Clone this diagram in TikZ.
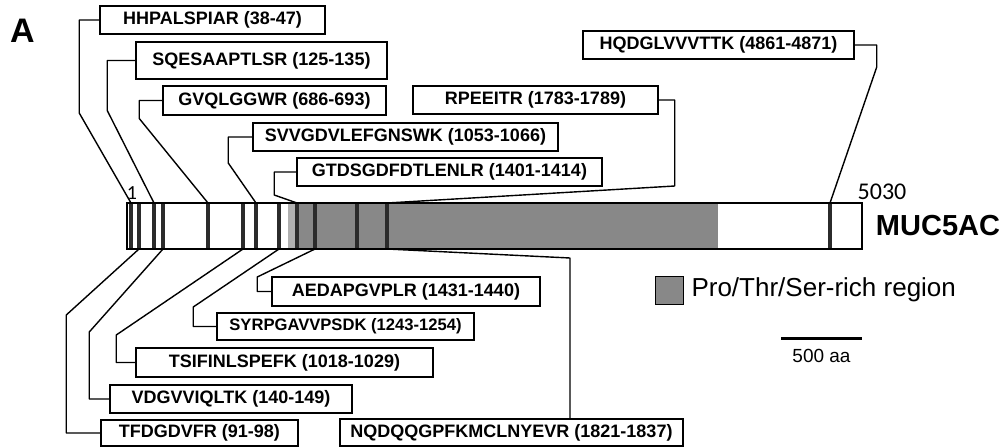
\documentclass[tikz,border=0pt]{standalone}
\usepackage{fontspec}
\setmainfont{Liberation Sans}
\newfontfamily\calfont{Carlito}
\usetikzlibrary{calc}
\definecolor{ptsgray}{HTML}{888888}
\definecolor{ptslight}{HTML}{B0B0B0}
\definecolor{sitedark}{HTML}{2B2B2B}

\begin{document}
\begin{tikzpicture}[x=1pt, y=-1pt,
  pep/.style={draw, line width=1.5pt, inner sep=0pt, fill=white, font=\fontsize{18}{20}\selectfont\bfseries},
  lead/.style={line width=1.4pt, line join=round},
  site/.style={line width=3.8pt, sitedark}
]
  \useasboundingbox (0,0) rectangle (1006,447);
  % protein bar
  \fill[white] (127,203) rectangle (862,249);
  \fill[ptslight] (288,203) rectangle (297,249);
  \fill[ptsgray] (297,203) rectangle (718,249);
  \foreach \x [count=\i] in {131,139,154,163,208,243,256,279,297,315,357,387,830}
    \draw[site] (\x,203) coordinate (t\i) -- (\x,249) coordinate (b\i);
  \draw[line width=1.5pt] (127,203) rectangle (862,249);
  \node[font=\calfont\fontsize{20}{20}\selectfont] (start) at (132,193) {1};
  \node[font=\calfont\fontsize{24}{24}\selectfont] (stop) at (882,192) {5030};
  \node[font=\fontsize{29}{30}\selectfont\bfseries] (muc) at (938,226) {MUC5AC};
  \node[font=\fontsize{34}{34}\selectfont\bfseries] (panel) at (22.5,31) {A};

  % peptides above the bar
  \node[pep, minimum width=225pt, minimum height=28pt] (hhp) at (212.5,20) {HHPALSPIAR (38-47)};
  \node[pep, minimum width=251pt, minimum height=37pt] (sqe) at (261.5,60.5) {SQESAAPTLSR (125-135)};
  \node[pep, minimum width=223pt, minimum height=29pt] (gvq) at (274.5,100.5) {GVQLGGWR (686-693)};
  \node[pep, minimum width=305pt, minimum height=28pt] (svv) at (405.5,137) {SVVGDVLEFGNSWK (1053-1066)};
  \node[pep, minimum width=305pt, minimum height=28pt] (gtd) at (449.5,172) {GTDSGDFDTLENLR (1401-1414)};
  \node[pep, minimum width=245pt, minimum height=28pt] (rpe) at (535.5,100) {RPEEITR (1783-1789)};
  \node[pep, minimum width=271pt, minimum height=28pt] (hqd) at (718.5,45) {HQDGLVVVTTK (4861-4871)};
  % peptides below the bar
  \node[pep, minimum width=268pt, minimum height=29pt] (aed) at (406,291.5) {AEDAPGVPLR (1431-1440)};
  \node[pep, minimum width=257pt, minimum height=27pt, font=\fontsize{16.6}{20}\selectfont\bfseries] (syr) at (345.5,326.5) {SYRPGAVVPSDK (1243-1254)};
  \node[pep, minimum width=297pt, minimum height=29pt] (tsi) at (284.5,362.5) {TSIFINLSPEFK (1018-1029)};
  \node[pep, minimum width=242pt, minimum height=28pt] (vdg) at (231,399) {VDGVVIQLTK (140-149)};
  \node[pep, minimum width=197pt, minimum height=26pt] (tfd) at (199.5,433) {TFDGDVFR (91-98)};
  \node[pep, minimum width=343pt, minimum height=27pt] (nqd) at (511.5,432.5) {NQDQQGPFKMCLNYEVR (1821-1837)};

  % leaders
  \draw[lead] (hhp.west) -- ++(-20,0) -- ++(0,93) -- (t1);
  \draw[lead] (sqe.west) -- ++(-28,0) -- ++(0,50) -- (t3);
  \draw[lead] (gvq.west) -- ++(-23,0) -- ++(0,18) -- (t5);
  \draw[lead] (svv.west) -- ++(-24,0) -- ++(0,26) -- (t7);
  \draw[lead] (gtd.west) -- ++(-22,0) -- ++(0,23) -- (t9);
  \draw[lead] (rpe.east) -- ++(16,0) -- ++(0,86) -- (t12);
  \draw[lead] (hqd.east) -- ++(22,0) -- ++(0,22) -- (t13);
  \draw[lead] (tfd.west) -- ++(-34,0) -- ++(0,-118) -- (b2);
  \draw[lead] (vdg.west) -- ++(-20,0) -- ++(0,-67) -- (b4);
  \draw[lead] (tsi.west) -- ++(-19,0) -- ++(0,-27.5) -- (b6);
  \draw[lead] (syr.west) -- ++(-23,0) -- ++(0,-19.5) -- (b8);
  \draw[lead] (aed.west) -- ++(-14,0) -- ++(0,-14.5) -- (b10);
  \draw[lead] (b12) -- ++(183,9) coordinate (nqdk) -- (nqdk |- nqd.north);

  % legend and scale
  \node[draw, line width=1pt, fill=ptsgray, minimum size=28pt, inner sep=0pt] (key) at (669.5,290) {};
  \node[font=\fontsize{26}{26}\selectfont, right=0pt] (keytext) at (key.east) {\hspace{4pt}Pro/Thr/Ser-rich region};
  \coordinate (sl) at (781,338);
  \coordinate (sr) at (862,338);
  \draw[line width=3pt] (sl) -- (sr);
  \node[font=\fontsize{19}{19}\selectfont] (scale) at (821.5,356) {500 aa};
\end{tikzpicture}
\end{document}
